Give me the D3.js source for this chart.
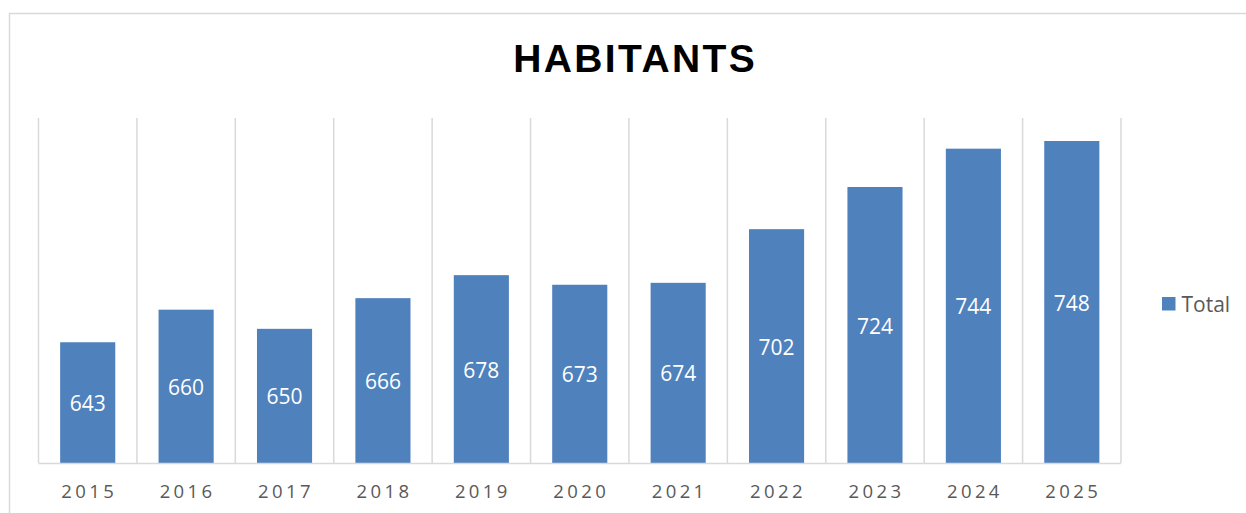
<!DOCTYPE html>
<html>
<head>
<meta charset="utf-8">
<script src="https://cdn.jsdelivr.net/npm/d3@7"></script>
<style>
  html, body { margin: 0; padding: 0; background: #fff; overflow: hidden; }
</style>
</head>
<body>
<svg id="chart" width="1246" height="513"></svg>
<script>
// values
const years = ['2015', '2016', '2017', '2018', '2019', '2020', '2021', '2022', '2023', '2024', '2025'];
const totals = [643, 660, 650, 666, 678, 673, 674, 702, 724, 744, 748];
const seriesName = 'Total';
const chartTitle = 'HABITANTS';

const margin = { top: 118, left: 38.5, right: 1121, bottom: 463 };
const svg = d3.select('#chart');

// outer chart frame (right/bottom edges run off the page)
svg.append('rect')
  .attr('x', 9.5).attr('y', 13.5)
  .attr('width', 1400).attr('height', 700)
  .attr('fill', 'none')
  .attr('stroke', '#d9d9d9')
  .attr('stroke-width', 1.5);

const x = d3.scaleBand()
  .domain(years)
  .range([margin.left, margin.right])
  .paddingInner(0.44)
  .paddingOuter(0.22);

const y = d3.scaleLinear()
  .domain([580, 760])
  .range([margin.bottom, margin.top]);

// vertical gridlines at category boundaries
const step = x.step();
const bounds = d3.range(years.length + 1).map(i => margin.left + i * step);
svg.append('g')
  .selectAll('line')
  .data(bounds)
  .enter()
  .append('line')
  .attr('x1', d => d).attr('x2', d => d)
  .attr('y1', margin.top).attr('y2', margin.bottom)
  .attr('stroke', '#d9d9d9')
  .attr('stroke-width', 1.5);

// bars
svg.append('g')
  .selectAll('rect')
  .data(totals)
  .enter()
  .append('rect')
  .attr('x', (d, i) => x(years[i]))
  .attr('y', d => y(d))
  .attr('width', x.bandwidth())
  .attr('height', d => y.range()[0] - y(d))
  .attr('fill', '#4f81bd');

// category axis baseline
svg.append('line')
  .attr('x1', margin.left).attr('x2', margin.right)
  .attr('y1', margin.bottom + 0.5).attr('y2', margin.bottom + 0.5)
  .attr('stroke', '#d9d9d9')
  .attr('stroke-width', 1.5);

// data labels centred in each bar
svg.append('g')
  .selectAll('text')
  .data(totals)
  .enter()
  .append('text')
  .attr('x', (d, i) => x(years[i]) + x.bandwidth() / 2)
  .attr('y', d => (y(d) + margin.bottom) / 2 + 1)
  .attr('dy', '0.36em')
  .attr('text-anchor', 'middle')
  .attr('font-family', '"Open Sans", sans-serif')
  .attr('font-size', 21)
  .attr('fill', '#fff')
  .text(d => d);

// year labels
svg.append('g')
  .selectAll('text')
  .data(years)
  .enter()
  .append('text')
  .attr('x', d => x(d) + x.bandwidth() / 2 + 1.5)
  .attr('y', 498)
  .attr('text-anchor', 'middle')
  .attr('font-family', '"Open Sans", sans-serif')
  .attr('font-size', 18.5)
  .attr('letter-spacing', 3.4)
  .attr('fill', '#595959')
  .text(d => d);

// title
svg.append('text')
  .attr('x', 634 + 1.2)
  .attr('y', 72)
  .attr('text-anchor', 'middle')
  .attr('font-family', '"Liberation Sans", Arial, sans-serif')
  .attr('font-weight', 'bold')
  .attr('font-size', 39)
  .attr('letter-spacing', 2.4)
  .attr('fill', '#000')
  .text(chartTitle);

// legend
const legend = svg.append('g').attr('transform', 'translate(1162,297)');
legend.append('rect')
  .attr('width', 13.5).attr('height', 13.5)
  .attr('fill', '#4f81bd');
legend.append('text')
  .attr('x', 19.5)
  .attr('y', 7)
  .attr('dy', '0.36em')
  .attr('font-family', '"Open Sans", sans-serif')
  .attr('font-size', 21)
  .attr('fill', '#595959')
  .text(seriesName);
</script>
</body>
</html>
